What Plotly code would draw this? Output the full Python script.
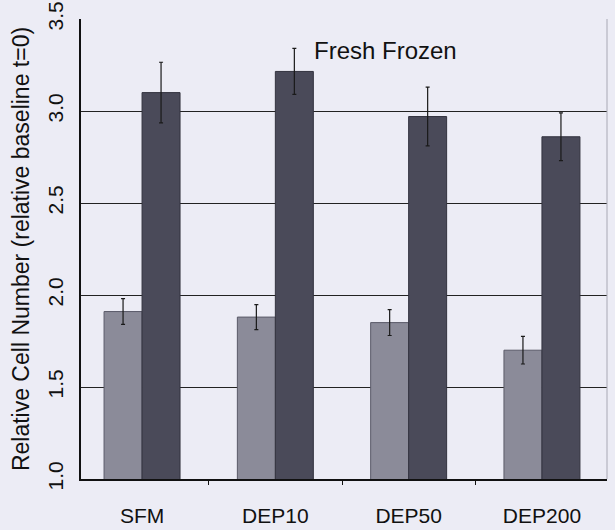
import plotly.graph_objects as go

# Treatment groups and measured relative cell numbers
categories = ["SFM", "DEP10", "DEP50", "DEP200"]
early_values = [1.91, 1.88, 1.85, 1.70]
early_errors = [0.07, 0.068, 0.07, 0.075]
late_values = [3.10, 3.215, 2.97, 2.86]
late_errors = [0.165, 0.125, 0.16, 0.13]
y_ticks = [1.0, 1.5, 2.0, 2.5, 3.0, 3.5]
y_tick_text = ["1.0", "1.5", "2.0", "2.5", "3.0", "3.5"]

FONT = "Liberation Sans, Arial, sans-serif"
BG = "#ececf5"

fig = go.Figure()
fig.add_trace(go.Bar(
    x=categories, y=early_values,
    marker=dict(color="#8b8b99", line=dict(color="#5a5a68", width=1)),
    error_y=dict(type="data", array=early_errors, color="#1a1a1a",
                 thickness=1.2, width=2),
    showlegend=False,
))
fig.add_trace(go.Bar(
    x=categories, y=late_values,
    marker=dict(color="#4a4a59", line=dict(color="#33333f", width=1)),
    error_y=dict(type="data", array=late_errors, color="#1a1a1a",
                 thickness=1.2, width=2),
    showlegend=False,
))

fig.update_layout(
    width=615, height=530,
    margin=dict(l=81, r=8, t=19, b=51),
    paper_bgcolor=BG, plot_bgcolor=BG,
    barmode="group", bargap=0.43, bargroupgap=0,
    font=dict(family=FONT, size=20, color="#111111"),
    annotations=[dict(
        text="Fresh Frozen", x=0.578, y=0.932, xref="paper", yref="paper",
        xanchor="center", yanchor="middle", showarrow=False,
        font=dict(family=FONT, size=24, color="#111111"),
    )],
    shapes=[dict(type="line", xref="paper", yref="paper",
                 x0=1, x1=1, y0=0, y1=1,
                 line=dict(color="#a8a8b4", width=1))],
)

fig.update_xaxes(
    type="category", range=[-0.458, 3.488], automargin=False,
    showline=True, linecolor="#111111", linewidth=1.5,
    showgrid=False, ticks="outside", tickson="boundaries",
    ticklen=4, tickcolor="#111111",
    ticklabelstandoff=17,
    tickfont=dict(family=FONT, size=21, color="#111111"),
)
fig.update_yaxes(
    range=[1.0, 3.5], tickvals=y_ticks, ticktext=y_tick_text, automargin=False,
    tickangle=-90, ticks="", ticklabelstandoff=8,
    showline=True, linecolor="#111111", linewidth=1.5,
    showgrid=True, gridcolor="#222222", gridwidth=1,
    zeroline=False,
    tickfont=dict(family=FONT, size=21, color="#111111"),
    title=dict(text="Relative Cell Number (relative baseline t=0)",
               standoff=8, font=dict(family=FONT, size=23, color="#111111")),
)

fig.write_html("out.html")
